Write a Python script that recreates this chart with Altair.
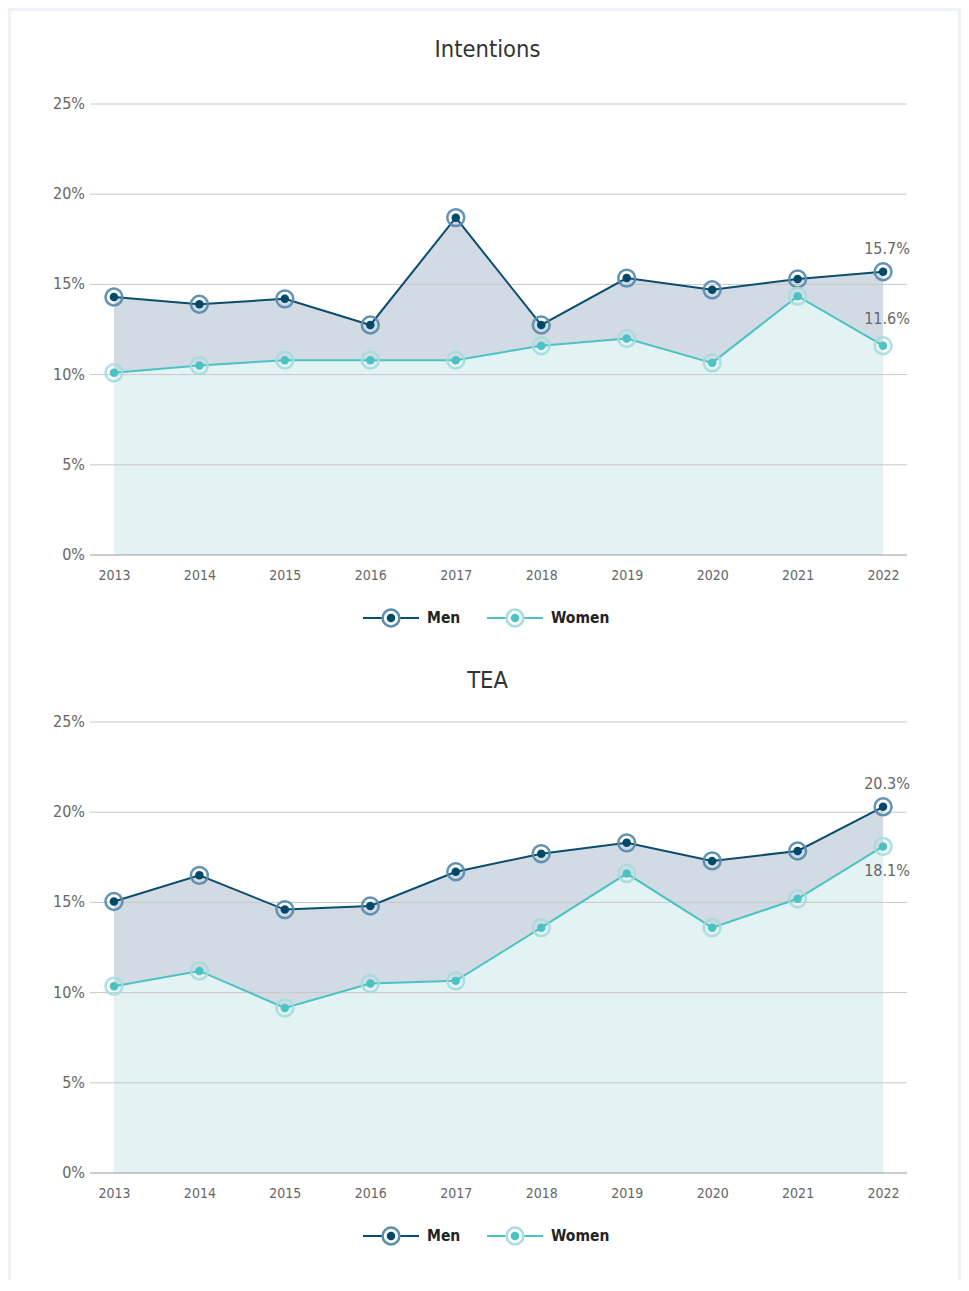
import altair as alt
import pandas as pd

years = [2013, 2014, 2015, 2016, 2017, 2018, 2019, 2020, 2021, 2022]
series_names = ["Men", "Women"]

int_men = [14.3, 13.9, 14.2, 12.75, 18.7, 12.75, 15.35, 14.7, 15.3, 15.7]
int_women = [10.1, 10.5, 10.8, 10.8, 10.8, 11.6, 12.0, 10.65, 14.35, 11.6]
tea_men = [15.05, 16.5, 14.6, 14.8, 16.7, 17.7, 18.3, 17.3, 17.85, 20.3]
tea_women = [10.35, 11.2, 9.15, 10.5, 10.65, 13.6, 16.6, 13.6, 15.2, 18.1]
y_ticks = [0, 5, 10, 15, 20, 25]

FONT = "DejaVu Sans Condensed, DejaVu Sans, sans-serif"
MEN_LINE = "#0b4d6c"
MEN_DOT = "#004a69"
MEN_RING = "#5a8db0"
MEN_AREA = "#d2dbe3"
WOM_LINE = "#4cc3c3"
WOM_DOT = "#4cc3c3"
WOM_RING = "#a6dcde"
WOM_AREA = "#e3f2f3"

W, H = 817, 451
RING = 285
DOT = 72


def panel(title, men, women, women_dy, title_y, rect_top, rect_bottom):
    df = pd.DataFrame({
        "year": years * 2,
        "series": ["Men"] * len(years) + ["Women"] * len(years),
        "value": men + women,
    })
    df["label"] = df["value"].map(lambda v: f"{v:.1f}%")
    base = alt.Chart(df)

    x_scale = alt.Scale(type="point", domain=years, padding=0.28)
    x_ax = alt.X("year:O", scale=x_scale, title=None,
                 axis=alt.Axis(labelFont=FONT, labelFontSize=14, labelColor="#666",
                               ticks=False, domain=False, grid=False, labelAngle=0,
                               labelPadding=13, zindex=1))
    x_na = alt.X("year:O", scale=x_scale, title=None, axis=None)
    y_scale = alt.Scale(domain=[0, 25], nice=False)
    y_na = alt.Y("value:Q", scale=y_scale, title=None, axis=None)

    men_f = "datum.series === 'Men'"
    wom_f = "datum.series === 'Women'"

    card = alt.Chart(alt.Data(values=[{"c": 1}])).mark_rect(color="white").encode(
        x=alt.value(-79), x2=alt.value(868), y=alt.value(rect_top), y2=alt.value(rect_bottom))
    ttl = alt.Chart(alt.Data(values=[{"t": title}])).mark_text(
        font=FONT, fontSize=23.5, color="#333", align="center", baseline="middle").encode(
        x=alt.value(W / 2 - 11), y=alt.value(title_y), text="t:N")

    grid_df = pd.DataFrame({"value": y_ticks})
    grid_df["label"] = grid_df["value"].map(lambda v: f"{v}%")
    grid = alt.Chart(grid_df).mark_rule(strokeWidth=1).encode(
        y=y_na,
        color=alt.condition("datum.value === 0", alt.value("#9a9a9a"), alt.value("#c8c8c8")))
    ylab = alt.Chart(grid_df).mark_text(
        font=FONT, fontSize=16, color="#666", align="right", baseline="middle").encode(
        x=alt.value(-5), y=y_na, text="label:N")

    men_area = base.transform_filter(men_f).mark_area(color=MEN_AREA, opacity=1).encode(x=x_ax, y=y_na)
    wom_area = base.transform_filter(wom_f).mark_area(color=WOM_AREA, opacity=1).encode(x=x_na, y=y_na)
    men_line = base.transform_filter(men_f).mark_line(color=MEN_LINE, strokeWidth=2).encode(x=x_na, y=y_na)
    wom_line = base.transform_filter(wom_f).mark_line(color=WOM_LINE, strokeWidth=2).encode(x=x_na, y=y_na)
    men_ring = base.transform_filter(men_f).mark_point(
        shape="circle", size=RING, stroke=MEN_RING, strokeWidth=2.5, filled=False,
        opacity=0.95).encode(x=x_na, y=y_na)
    men_dot = base.transform_filter(men_f).mark_circle(size=DOT, color=MEN_DOT, opacity=1).encode(x=x_na, y=y_na)
    wom_ring = base.transform_filter(wom_f).mark_point(
        shape="circle", size=RING, stroke=WOM_RING, strokeWidth=2.5, filled=False,
        opacity=0.9).encode(x=x_na, y=y_na)
    wom_dot = base.transform_filter(wom_f).mark_circle(size=DOT, color=WOM_DOT, opacity=1).encode(x=x_na, y=y_na)

    last = f"datum.year === {years[-1]}"
    men_lab = base.transform_filter(men_f).transform_filter(last).mark_text(
        font=FONT, fontSize=16, color="#666", dy=-23, dx=4).encode(x=x_na, y=y_na, text="label:N")
    wom_lab = base.transform_filter(wom_f).transform_filter(last).mark_text(
        font=FONT, fontSize=16, color="#666", dy=women_dy, dx=4).encode(x=x_na, y=y_na, text="label:N")

    leg_df = pd.DataFrame({"series": series_names})
    lx = alt.X("series:N", scale=alt.Scale(type="point", domain=series_names, range=[301, 425], padding=0),
               axis=None)
    col = alt.Color("series:N", scale=alt.Scale(domain=series_names, range=[MEN_LINE, WOM_LINE]), legend=None)
    dcol = alt.Color("series:N", scale=alt.Scale(domain=series_names, range=[MEN_DOT, WOM_DOT]), legend=None)
    rcol = alt.Stroke("series:N", scale=alt.Scale(domain=series_names, range=[MEN_RING, WOM_RING]), legend=None)
    ly = alt.value(514)
    lbase = alt.Chart(leg_df)
    leg_line = lbase.mark_rule(strokeWidth=2, xOffset=-28, x2Offset=28).encode(
        x=lx, x2=alt.X2("series:N"), y=ly, color=col)
    leg_ring = lbase.mark_point(shape="circle", size=RING, strokeWidth=2.5, fill="white", opacity=1).encode(
        x=lx, y=ly, stroke=rcol)
    leg_dot = lbase.mark_circle(size=DOT, opacity=1).encode(x=lx, y=ly, color=dcol)
    leg_txt = lbase.mark_text(align="left", baseline="middle", dx=36, font=FONT, fontSize=15.5,
                              fontWeight="bold", color="#222").encode(x=lx, y=ly, text="series:N")

    return alt.layer(card, ttl, men_area, wom_area, grid, ylab, men_line, wom_line,
                     men_ring, men_dot, wom_ring, wom_dot, men_lab, wom_lab,
                     leg_line, leg_ring, leg_dot, leg_txt).resolve_scale(
        x="independent", color="independent", stroke="independent").properties(
        width=W, height=H)


p1 = panel("Intentions", int_men, int_women, -27, -54, -93, 544)
p2 = panel("TEA", tea_men, tea_women, 25, -41, -74, 558)

chart = alt.vconcat(p1, p2, spacing=0).properties(
    background="#eef2f6",
    padding={"left": 3, "top": 3, "right": 3, "bottom": 0},
).configure_view(stroke=None)

chart.save("out.html", embed_options={"renderer": "svg", "actions": False})
